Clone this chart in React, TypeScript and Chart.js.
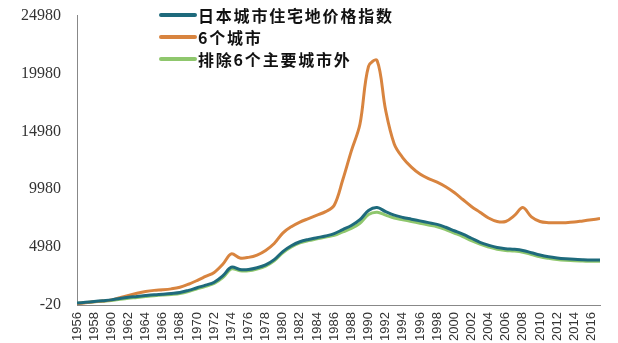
import React, { useEffect, useRef } from "react";
import { Chart, registerables } from "chart.js";

Chart.register(...registerables);

const years = [
  1956, 1957, 1958, 1959, 1960, 1961, 1962, 1963, 1964, 1965, 1966, 1967, 1968, 1969, 1970,
  1971, 1972, 1973, 1974, 1975, 1976, 1977, 1978, 1979, 1980, 1981, 1982, 1983, 1984, 1985,
  1986, 1987, 1988, 1989, 1990, 1991, 1992, 1993, 1994, 1995, 1996, 1997, 1998, 1999, 2000,
  2001, 2002, 2003, 2004, 2005, 2006, 2007, 2008, 2009, 2010, 2011, 2012, 2013, 2014, 2015,
  2016, 2017,
];

const seriesNames = ["日本城市住宅地价格指数", "6个城市", "排除6个主要城市外"];

const japanIndex = [
  150, 220, 290, 360, 430, 550, 650, 720, 800, 870, 920, 980, 1060, 1250, 1480,
  1700, 1950, 2500, 3250, 3050, 3050, 3200, 3450, 3900, 4600, 5100, 5450, 5650, 5800, 5950,
  6150, 6500, 6850, 7350, 8150, 8400, 8050, 7750, 7550, 7400, 7250, 7100, 6950, 6700, 6400,
  6100, 5750, 5400, 5150, 4950, 4850, 4800, 4700, 4500, 4300, 4150, 4050, 3980, 3930, 3900,
  3880, 3880,
];

const sixCities = [
  100, 180, 260, 340, 430, 620, 820, 1000, 1150, 1250, 1300, 1380, 1520, 1780, 2100,
  2450, 2800, 3500, 4400, 4050, 4100, 4300, 4700, 5300, 6200, 6750, 7150, 7450, 7750, 8050,
  8600, 10800, 13300, 15600, 20600, 21100, 16800, 13900, 12700, 11900, 11300, 10900, 10600, 10200, 9700,
  9100, 8500, 8000, 7500, 7200, 7200, 7700, 8400, 7600, 7200, 7100, 7080, 7100, 7150, 7250,
  7350, 7450,
];

const excludingSix = [
  130, 200, 260, 320, 380, 480, 570, 640, 720, 790, 840, 900, 980, 1150, 1380,
  1600, 1850, 2350, 3100, 2950, 2950, 3100, 3350, 3800, 4500, 5000, 5350, 5550, 5700, 5850,
  6000, 6300, 6600, 7050, 7800, 8000, 7750, 7500, 7350, 7200, 7050, 6900, 6750, 6500, 6200,
  5900, 5550, 5250, 5000, 4800, 4700, 4650, 4550, 4350, 4150, 4020, 3920, 3850, 3800, 3780,
  3760, 3760,
];

const yTicks = [-20, 4980, 9980, 14980, 19980, 24980];
const xTickYears = years.filter((y) => (y - 1956) % 2 === 0);

const colors = ["#1e6a7c", "#d8843f", "#8fc76d"];

const legendPlugin = {
  id: "insideLegend",
  afterDraw(chart: any) {
    const ctx = chart.ctx;
    ctx.save();
    const x0 = 161;
    const ys = [20, 42, 64];
    chart.data.datasets.forEach((ds: any, i: number) => {
      const y = ys[i];
      ctx.strokeStyle = ds.borderColor;
      ctx.lineWidth = 4;
      ctx.lineCap = "round";
      ctx.beginPath();
      ctx.moveTo(x0, y);
      ctx.lineTo(x0 + 34, y);
      ctx.stroke();
      ctx.fillStyle = "#111";
      ctx.font = "bold 16px 'Noto Sans CJK SC', sans-serif";
      (ctx as any).letterSpacing = "1.8px";
      ctx.textBaseline = "middle";
      ctx.textAlign = "left";
      ctx.fillText(ds.label, x0 + 37, y + 1);
    });
    ctx.restore();
  },
};

export default function App() {
  const ref = useRef<HTMLCanvasElement | null>(null);
  useEffect(() => {
    document.body.style.margin = "0";
    document.body.style.overflow = "hidden";
    const canvas = ref.current!;
    const mk = (vals: number[]) => years.map((y, i) => ({ x: y, y: vals[i] }));
    const chart = new Chart(canvas, {
      type: "line",
      data: {
        datasets: [
          { label: seriesNames[0], data: mk(japanIndex), borderColor: colors[0], backgroundColor: colors[0] },
          { label: seriesNames[1], data: mk(sixCities), borderColor: colors[1], backgroundColor: colors[1] },
          { label: seriesNames[2], data: mk(excludingSix), borderColor: colors[2], backgroundColor: colors[2] },
        ],
      },
      options: {
        animation: false,
        responsive: false,
        devicePixelRatio: 1,
        layout: { padding: { top: 0, right: 18, bottom: 0, left: 0 } },
        elements: {
          point: { radius: 0 },
          line: { borderWidth: 3, tension: 0.35 },
        },
        plugins: { legend: { display: false }, tooltip: { enabled: false } },
        scales: {
          x: {
            type: "linear",
            min: 1956,
            max: 2017,
            afterBuildTicks: (scale: any) => {
              scale.ticks = xTickYears.map((v) => ({ value: v }));
            },
            grid: { display: false, drawTicks: true, tickLength: 5, color: "#888" },
            border: { display: true, color: "#888", width: 1 },
            ticks: {
              autoSkip: false,
              maxRotation: 90,
              minRotation: 90,
              padding: 2,
              color: "#333",
              font: { family: "'Liberation Sans', Arial, sans-serif", size: 13 },
              callback: (v: any) => String(v),
            },
          },
          y: {
            min: -20,
            max: 24980,
            afterBuildTicks: (scale: any) => {
              scale.ticks = yTicks.map((v) => ({ value: v }));
            },
            afterFit: (scale: any) => {
              scale.width = 77;
            },
            grid: { display: false, drawTicks: true, tickLength: 5, color: "#888" },
            border: { display: true, color: "#888", width: 1 },
            ticks: {
              padding: 11,
              color: "#333",
              font: { family: "'Liberation Serif', 'Times New Roman', serif", size: 16 },
              callback: (v: any) => String(v),
            },
          },
        },
      },
      plugins: [legendPlugin],
    } as any);
    return () => chart.destroy();
  }, []);
  return (
    <canvas
      ref={ref}
      width={618}
      height={348}
      style={{ display: "block", width: 618, height: 348, marginTop: -5 }}
    />
  );
}
